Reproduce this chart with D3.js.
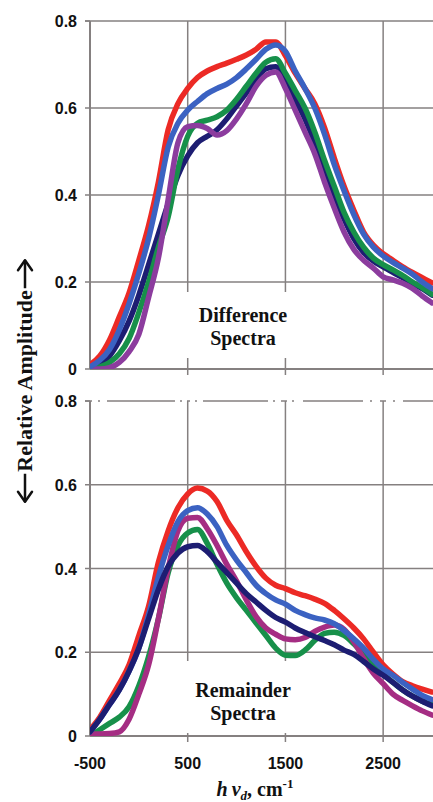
<!DOCTYPE html>
<html><head><meta charset="utf-8">
<script src="https://cdn.jsdelivr.net/npm/d3@7"></script>
<style>body{margin:0;background:#fff}svg{display:block}</style>
</head><body>
<script>
const xs = d3.range(-500, 3001, 100);
const xTicks = [-500, 500, 1500, 2500];
const xTickLabels = ["-500", "500", "1500", "2500"];
const yTicks = [0, 0.2, 0.4, 0.6, 0.8];
const yTickLabels = ["0", "0.2", "0.4", "0.6", "0.8"];
const seriesColors = {red:"#ec2a25", blue:"#3b62c2", green:"#17904a", navy:"#1d1d72", purple:"#8c3c9e", magenta:"#a52d83"};

// Difference spectra (top panel)
const diffRed    = [0.01,0.03,0.067,0.12,0.175,0.25,0.33,0.43,0.55,0.61,0.645,0.67,0.685,0.695,0.703,0.712,0.722,0.735,0.752,0.752,0.72,0.68,0.645,0.61,0.555,0.485,0.42,0.365,0.315,0.285,0.265,0.25,0.235,0.222,0.21,0.198];
const diffBlue   = [0.005,0.02,0.045,0.09,0.15,0.22,0.30,0.40,0.51,0.565,0.595,0.615,0.633,0.645,0.655,0.67,0.69,0.712,0.735,0.745,0.73,0.685,0.645,0.60,0.54,0.47,0.41,0.355,0.31,0.28,0.26,0.245,0.232,0.218,0.2,0.185];
const diffGreen  = [0.0,0.005,0.015,0.035,0.07,0.13,0.2,0.28,0.35,0.46,0.535,0.565,0.572,0.58,0.595,0.62,0.65,0.68,0.705,0.713,0.68,0.64,0.60,0.545,0.48,0.42,0.36,0.315,0.28,0.255,0.24,0.228,0.215,0.2,0.187,0.172];
const diffNavy   = [0.0,0.01,0.03,0.065,0.11,0.17,0.24,0.31,0.38,0.445,0.49,0.52,0.535,0.55,0.575,0.605,0.635,0.665,0.69,0.695,0.665,0.62,0.575,0.52,0.455,0.40,0.345,0.30,0.268,0.248,0.235,0.222,0.21,0.197,0.185,0.17];
const diffPurple = [0.0,0.0,0.003,0.015,0.04,0.08,0.165,0.255,0.39,0.52,0.557,0.56,0.553,0.538,0.548,0.575,0.61,0.65,0.675,0.683,0.645,0.595,0.545,0.495,0.43,0.37,0.315,0.275,0.25,0.232,0.212,0.205,0.197,0.185,0.168,0.152];

// Remainder spectra (bottom panel)
const remRed     = [0.015,0.045,0.085,0.125,0.17,0.24,0.31,0.415,0.49,0.545,0.578,0.592,0.585,0.56,0.515,0.48,0.44,0.405,0.377,0.36,0.352,0.342,0.335,0.327,0.317,0.3,0.28,0.258,0.232,0.2,0.17,0.148,0.13,0.12,0.112,0.105];
const remBlue    = [0.01,0.04,0.075,0.11,0.155,0.21,0.29,0.38,0.455,0.512,0.538,0.545,0.53,0.5,0.455,0.42,0.39,0.36,0.34,0.325,0.315,0.3,0.29,0.282,0.277,0.268,0.252,0.232,0.21,0.183,0.16,0.145,0.128,0.112,0.097,0.087];
const remMagenta = [0.005,0.005,0.006,0.01,0.04,0.1,0.17,0.28,0.40,0.49,0.52,0.522,0.495,0.455,0.41,0.37,0.325,0.285,0.258,0.243,0.232,0.23,0.235,0.25,0.26,0.265,0.255,0.225,0.185,0.15,0.125,0.1,0.085,0.072,0.06,0.05];
const remGreen   = [0.0,0.015,0.03,0.045,0.07,0.12,0.19,0.28,0.39,0.455,0.485,0.493,0.46,0.41,0.365,0.33,0.3,0.27,0.24,0.21,0.193,0.192,0.205,0.228,0.245,0.248,0.24,0.22,0.195,0.17,0.148,0.128,0.11,0.095,0.083,0.075];
const remNavy    = [0.01,0.04,0.075,0.11,0.155,0.21,0.28,0.35,0.405,0.437,0.452,0.455,0.44,0.415,0.39,0.365,0.34,0.32,0.3,0.283,0.272,0.258,0.247,0.237,0.228,0.218,0.205,0.195,0.178,0.16,0.145,0.128,0.11,0.095,0.083,0.072];

const W = 433, H = 802;
const svg = d3.select("body").append("svg").attr("width", W).attr("height", H);
const x = d3.scaleLinear().domain([-500, 3000]).range([90, 432]);
const gridColor = "#858080";
const tickFont = "bold 16px 'Liberation Sans', Arial, sans-serif";
const serif = "'Liberation Serif', 'Times New Roman', serif";

function panel(id, top, bottom, series, labelLines, box, baselines, dashedTop) {
  const y = d3.scaleLinear().domain([0, 0.8]).range([bottom, top]);
  const g = svg.append("g");
  g.selectAll(".hg").data(yTicks.filter(v => v > 0 && v < 0.8)).join("line")
    .attr("x1", x(-500)).attr("x2", 433).attr("y1", d => y(d)).attr("y2", d => y(d))
    .attr("stroke", gridColor).attr("stroke-width", 1.5);
  g.selectAll(".vg").data(xTicks.slice(1)).join("line")
    .attr("x1", d => x(d)).attr("x2", d => x(d)).attr("y1", top).attr("y2", bottom + 6)
    .attr("stroke", gridColor).attr("stroke-width", 1.5);
  g.append("line").attr("x1", x(-500) - 5).attr("x2", 433).attr("y1", top).attr("y2", top)
    .attr("stroke", gridColor).attr("stroke-width", 1.5)
    .attr("stroke-dasharray", dashedTop ? "7,6,2,7,68,5,2,5,3,5,2,6,65,5,2,6,6,5,2,9,60,7,2,8,6,7,2,8,40" : null);
  g.append("rect").attr("x", box[0]).attr("y", box[1]).attr("width", box[2]).attr("height", box[3]).attr("fill", "#fff");
  g.append("line").attr("x1", x(-500)).attr("x2", x(-500)).attr("y1", top).attr("y2", bottom)
    .attr("stroke", gridColor).attr("stroke-width", 2);
  g.append("line").attr("x1", x(-500)).attr("x2", 433).attr("y1", bottom).attr("y2", bottom)
    .attr("stroke", gridColor).attr("stroke-width", 2);
  g.selectAll(".yt").data(yTicks).join("line")
    .attr("x1", x(-500) - 5).attr("x2", x(-500)).attr("y1", d => y(d)).attr("y2", d => y(d))
    .attr("stroke", gridColor).attr("stroke-width", 1.5);
  g.selectAll(".yl").data(yTicks).join("text")
    .attr("x", 77).attr("y", d => y(d) + 6).attr("text-anchor", "end")
    .style("font", tickFont).attr("fill", "#111")
    .text((d, i) => yTickLabels[i]);
  svg.append("clipPath").attr("id", id).append("rect")
    .attr("x", x(-500)).attr("y", top - 5).attr("width", 433 - x(-500)).attr("height", bottom - top + 5);
  const line = d3.line().x((d, i) => x(xs[i])).y(d => y(d)).curve(d3.curveMonotoneX);
  const lg = g.append("g").attr("clip-path", `url(#${id})`);
  series.forEach(s => {
    lg.append("path").attr("d", line(s.values)).attr("fill", "none")
      .attr("stroke", seriesColors[s.color]).attr("stroke-width", 5.5)
      .attr("stroke-linejoin", "round").attr("stroke-linecap", "round");
  });
  g.selectAll(".ann").data(labelLines).join("text")
    .attr("x", box[0] + box[2] / 2).attr("y", (d, i) => baselines[i])
    .attr("text-anchor", "middle")
    .style("font", `bold 20px ${serif}`).attr("fill", "#111")
    .text(d => d);
}

panel("c1", 21, 369, [
  {color:"red", values: diffRed},
  {color:"navy", values: diffNavy},
  {color:"green", values: diffGreen},
  {color:"purple", values: diffPurple},
  {color:"blue", values: diffBlue}
], ["Difference", "Spectra"], [186, 292, 114, 66], [322, 345], false);

panel("c2", 401, 736, [
  {color:"green", values: remGreen},
  {color:"magenta", values: remMagenta},
  {color:"red", values: remRed},
  {color:"blue", values: remBlue},
  {color:"navy", values: remNavy}
], ["Remainder", "Spectra"], [184, 661, 118, 72], [697, 720], true);

svg.selectAll(".xl").data(xTicks).join("text")
  .attr("x", d => x(d)).attr("y", 769).attr("text-anchor", "middle")
  .style("font", tickFont).attr("fill", "#111")
  .text((d, i) => xTickLabels[i]);

// y title with long arrows
const yt = svg.append("g").attr("transform", "translate(32,381) rotate(-90)");
const ytxt = yt.append("text").attr("x", 0).attr("y", 0).attr("text-anchor", "middle")
  .style("font", `bold 22px ${serif}`).attr("fill", "#111")
  .text("Relative Amplitude");
const tw = ytxt.node().getComputedTextLength();
const ay = -7;
[[-tw/2 - 2, -tw/2 - 30], [tw/2 + 2, tw/2 + 30]].forEach(([a, b]) => {
  yt.append("line").attr("x1", a).attr("x2", b).attr("y1", ay).attr("y2", ay)
    .attr("stroke", "#111").attr("stroke-width", 2.5);
  const dir = Math.sign(b - a);
  yt.append("path").attr("d", `M${b},${ay} L${b - dir*10},${ay - 7} M${b},${ay} L${b - dir*10},${ay + 7}`)
    .attr("stroke", "#111").attr("stroke-width", 2.5).attr("fill", "none").attr("stroke-linecap", "round");
});

const xt = svg.append("text").attr("x", 255).attr("y", 796).attr("text-anchor", "middle")
  .style("font", `bold 20px ${serif}`).attr("fill", "#111");
xt.append("tspan").style("font-style", "italic").text("h\u2009\u03bd");
xt.append("tspan").style("font-style", "italic").style("font-size", "13px").attr("dy", 4).text("d");
xt.append("tspan").attr("dy", -4).text(", cm");
xt.append("tspan").style("font-size", "13px").attr("dy", -8).text("-1");
</script>
</body></html>
